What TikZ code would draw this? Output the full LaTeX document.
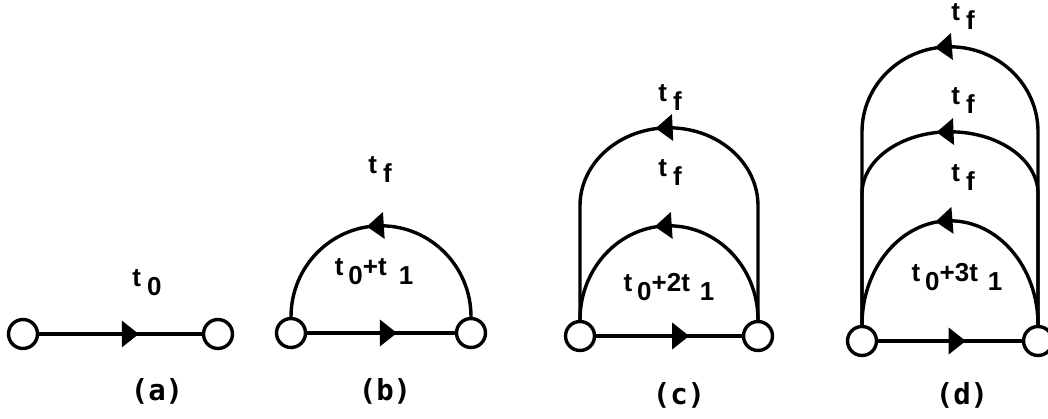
\documentclass[tikz,border=0pt]{standalone}
\usepackage{fontspec}
\setmainfont{DejaVu Sans Mono}
\newfontfamily\tfont{Liberation Sans}
\usetikzlibrary{decorations.markings}
\newcommand\tsub[1]{t\hspace{6pt}\raisebox{-9pt}{#1}}
\begin{document}
\begin{tikzpicture}[x=1pt,y=1pt,
  vtx/.style={circle,draw,fill=white,line width=3.4pt,minimum size=29pt,inner sep=0pt},
  edgeline/.style={line width=3.4pt},
  midarrow/.style={postaction={decorate},decoration={markings,
     mark=at position #1 with {\fill (8.5pt,0) -- (-8.5pt,13.5pt) -- (-8.5pt,-13.5pt) -- cycle;}}},
  tlab/.style={font=\tfont\bfseries\fontsize{26}{30}\selectfont,inner sep=0pt},
  plab/.style={font=\bfseries\fontsize{29}{33}\selectfont,inner sep=0pt}]
\useasboundingbox (0,0) rectangle (1048,418);
% (a)
\node[vtx] (a1) at (23,84) {};
\node[vtx] (a2) at (218,84) {};
\draw[edgeline,midarrow=0.56] (a1) -- (a2);
\node[tlab] (la) at (147,135) {\tsub{0}};
\node[plab] (pa) at (157,27) {(a)};
% (b)
\node[vtx] (b1) at (291,85) {};
\node[vtx] (b2) at (471,85) {};
\draw[edgeline,midarrow=0.55] (b1) -- (b2);
\draw[edgeline,midarrow=0.52] (b2.north) arc[start angle=0,end angle=180,x radius=90,y radius=91];
\node[tlab] (lb1) at (380,248) {\tsub{f}};
\node[tlab] (lb2) at (374,146) {t\hspace{5pt}\raisebox{-9pt}{0}+t\hspace{12pt}\raisebox{-9pt}{1}};
\node[plab] (pb) at (385,27) {(b)};
% (c)
\node[vtx] (c1) at (580,82) {};
\node[vtx] (c2) at (758,82) {};
\draw[edgeline,midarrow=0.58] (c1) -- (c2);
\draw[edgeline,midarrow=0.52] (c2.north) arc[start angle=0,end angle=180,x radius=89,y radius=94];
\draw[edgeline,midarrow=0.51] (c2.north) -- ++(0,114) arc[start angle=0,end angle=180,x radius=89,y radius=78] -- (c1.north);
\node[tlab] (lc1) at (670,320) {\tsub{f}};
\node[tlab] (lc2) at (670,245) {\tsub{f}};
\node[tlab] (lc3) at (669,131) {t\hspace{5pt}\raisebox{-9pt}{0}+2t\hspace{10pt}\raisebox{-9pt}{1}};
\node[plab] (pc) at (679,23) {(c)};
% (d)
\node[vtx] (d1) at (862,77) {};
\node[vtx] (d2) at (1038,77) {};
\draw[edgeline,midarrow=0.55] (d1) -- (d2);
\draw[edgeline,midarrow=0.52] (d2.north) arc[start angle=0,end angle=180,x radius=88,y radius=104];
\draw[edgeline,midarrow=0.51] (d2.north) -- ++(0,131) arc[start angle=0,end angle=180,x radius=88,y radius=62] -- (d1.north);
\draw[edgeline,midarrow=0.51] (d2.north) -- ++(0,193) arc[start angle=0,end angle=180,x radius=88,y radius=85] -- (d1.north);
\node[tlab] (ld1) at (963,401) {\tsub{f}};
\node[tlab] (ld2) at (963,317) {\tsub{f}};
\node[tlab] (ld3) at (963,240) {\tsub{f}};
\node[tlab] (ld4) at (957,141) {t\hspace{5pt}\raisebox{-9pt}{0}+3t\hspace{10pt}\raisebox{-9pt}{1}};
\node[plab] (pd) at (962,23) {(d)};
\end{tikzpicture}
\end{document}
